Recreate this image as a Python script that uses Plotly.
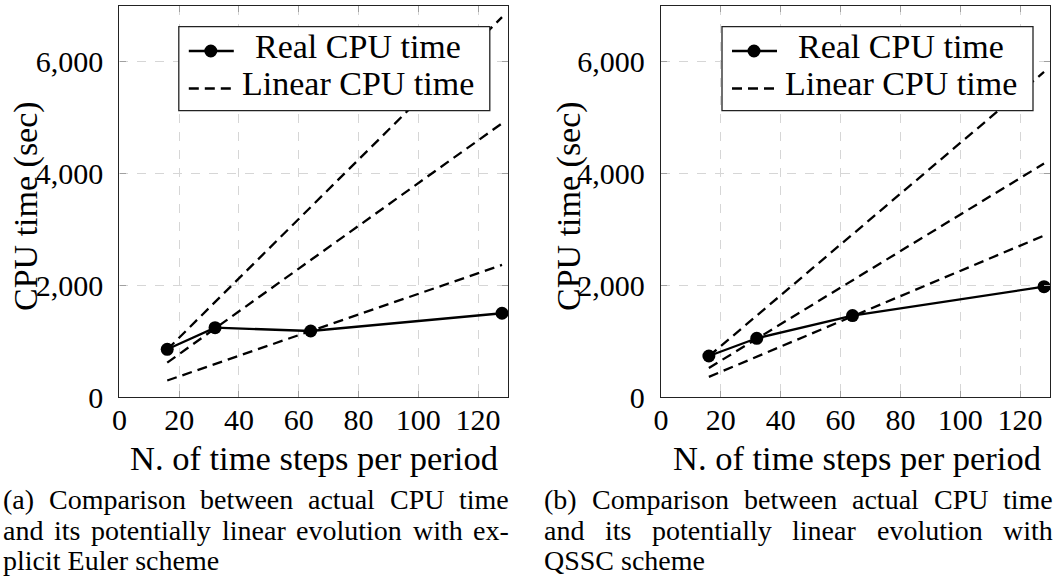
import plotly.graph_objects as go

W, H = 1055, 583

# ---------------- data ----------------
steps = [16, 32, 64, 128]
real_euler = [854, 1241, 1182, 1499]
real_qssc = [734, 1051, 1457, 1976]

lin_x = [16, 128]
lin_euler_a = [850, 6800]
lin_euler_b = [615, 4900]
lin_euler_c = [295, 2364]
lin_qssc_a = [730, 5820]
lin_qssc_b = [520, 4180]
lin_qssc_c = [360, 2890]

x_ticks = [0, 20, 40, 60, 80, 100, 120]
y_ticks = [0, 2000, 4000, 6000]

legend_names = ["Real CPU time", "Linear CPU time"]
x_title = "N. of time steps per period"
y_title = "CPU time (sec)"
caption_a = [
    "(a) Comparison between actual CPU time",
    "and its potentially linear evolution with ex-",
    "plicit Euler scheme",
]
caption_b = [
    "(b) Comparison between actual CPU time",
    "and its potentially linear evolution with",
    "QSSC scheme",
]

FONT = "Liberation Serif"


def px(x):
    return x / W


def py(y):
    return 1 - y / H


fig = go.Figure()
DASH = "10px,6px"
LW = 2.3


def add_panel(xa, ya, real, lines):
    fig.add_trace(go.Scatter(
        x=steps, y=real, mode="lines+markers", name=legend_names[0],
        line=dict(color="black", width=LW),
        marker=dict(color="black", size=13),
        xaxis=xa, yaxis=ya, showlegend=False))
    for ln in lines:
        fig.add_trace(go.Scatter(
            x=lin_x, y=ln, mode="lines", name=legend_names[1],
            line=dict(color="black", width=LW, dash=DASH),
            xaxis=xa, yaxis=ya, showlegend=False))


add_panel("x", "y", real_euler, [lin_euler_a, lin_euler_b, lin_euler_c])
add_panel("x2", "y2", real_qssc, [lin_qssc_a, lin_qssc_b, lin_qssc_c])

axis_common = dict(
    showline=True, linecolor="#222222", linewidth=1.3, mirror="ticks",
    showgrid=True, gridcolor="#d6d6d6", gridwidth=1, griddash="dash",
    ticks="inside", ticklen=6, tickcolor="#a0a0a0", tickwidth=1,
    zeroline=False, automargin=False,
    tickfont=dict(family=FONT, size=30, color="black"),
)

XL = (119.4, 508)
XR = (661, 1050)
YT, YB = 6, 397
ydom = [py(YB), py(YT)]
fig.update_layout(
    width=W, height=H,
    margin=dict(l=0, r=0, t=0, b=0, pad=0, autoexpand=False),
    paper_bgcolor="white", plot_bgcolor="white",
    xaxis=dict(domain=[px(XL[0]), px(XL[1])], range=[0, 130], tickvals=x_ticks,
               anchor="y", ticklabelstandoff=-4, **axis_common),
    yaxis=dict(domain=ydom, range=[0, 7000], tickvals=y_ticks, tickformat=",d",
               anchor="x", ticklabelstandoff=9, **axis_common),
    xaxis2=dict(domain=[px(XR[0]), px(XR[1])], range=[0, 130], tickvals=x_ticks,
                anchor="y2", ticklabelstandoff=-4, **axis_common),
    yaxis2=dict(domain=ydom, range=[0, 7000], tickvals=y_ticks, tickformat=",d",
                anchor="x2", ticklabelstandoff=9, **axis_common),
    separators=".,",
    showlegend=False,
)

ann = []
shapes = []


def text(t, x, y_mid, size, anchor="center", angle=0):
    ann.append(dict(text=t, x=px(x), y=py(y_mid), xref="paper", yref="paper",
                    showarrow=False, xanchor=anchor, yanchor="middle", textangle=angle,
                    borderpad=0, font=dict(family=FONT, size=size, color="black")))


# ---- legends (drawn as a framed key) ----
LEG_SIZE = 34


def legend(x0):
    y0, y1 = 26.7, 110.7
    shapes.append(dict(type="rect", xref="paper", yref="paper",
                       x0=px(x0), x1=px(x0 + 311), y0=py(y1), y1=py(y0),
                       line=dict(color="#222222", width=1.3), fillcolor="white", layer="above"))
    shapes.append(dict(type="line", xref="paper", yref="paper",
                       x0=px(x0 + 10), x1=px(x0 + 55), y0=py(51), y1=py(51),
                       line=dict(color="black", width=LW), layer="above"))
    shapes.append(dict(type="circle", xref="paper", yref="paper",
                       x0=px(x0 + 32 - 6.5), x1=px(x0 + 32 + 6.5),
                       y0=py(51 + 6.5), y1=py(51 - 6.5),
                       line=dict(color="black", width=0), fillcolor="black", layer="above"))
    shapes.append(dict(type="line", xref="paper", yref="paper",
                       x0=px(x0 + 10), x1=px(x0 + 52), y0=py(88.5), y1=py(88.5),
                       line=dict(color="black", width=LW, dash=DASH), layer="above"))
    text(legend_names[0], x0 + 179, 58 - 0.34 * LEG_SIZE, LEG_SIZE)
    text(legend_names[1], x0 + 179, 95 - 0.34 * LEG_SIZE, LEG_SIZE)


legend(178.8)
legend(722)

# ---- axis titles ----
XT_SIZE = 34.5
for cx in (314, 857):
    text(x_title, cx, 470 - 0.34 * XT_SIZE, XT_SIZE)
for cx in (26, 569):
    text(y_title, cx, 206, 34, angle=-90)

# ---- captions (justified by per-word placement) ----
CW = {' ': 250, '.': 250, ',': 250, '(': 333, ')': 333, '-': 333}
CW.update(dict(a=444, b=500, c=444, d=500, e=444, f=333, g=500, h=500, i=278, j=278,
               k=500, l=278, m=778, n=500, o=500, p=500, q=500, r=333, s=389, t=278,
               u=500, v=500, w=722, x=500, y=500, z=444))
CW.update(dict(A=722, B=667, C=667, D=722, E=611, F=556, G=722, H=722, I=333, J=389,
               K=722, L=611, M=889, N=722, O=722, P=556, Q=722, R=667, S=556, T=611,
               U=722, V=722, W=944, X=722, Y=722, Z=611))
CAP_SIZE = 28


def wwidth(word):
    return sum(CW.get(ch, 500) for ch in word) * CAP_SIZE / 1000.0


def caption(lines, x0, x1, baselines):
    for li, (line, yb) in enumerate(zip(lines, baselines)):
        ymid = yb - 0.34 * CAP_SIZE
        if li == len(lines) - 1:
            text(line, x0, ymid, CAP_SIZE, anchor="left")
            continue
        words = line.split(" ")
        tot = sum(wwidth(w) for w in words)
        gap = (x1 - x0 - tot) / (len(words) - 1)
        xc = x0
        for w in words:
            text(w, xc, ymid, CAP_SIZE, anchor="left")
            xc += wwidth(w) + gap


caption(caption_a, 2, 508, [509, 540, 570])
caption(caption_b, 543, 1052, [509, 540, 570])

fig.update_layout(annotations=ann, shapes=shapes)
fig.write_html("out.html", post_script="document.body.style.margin='0px';",
               config={"displayModeBar": False})
